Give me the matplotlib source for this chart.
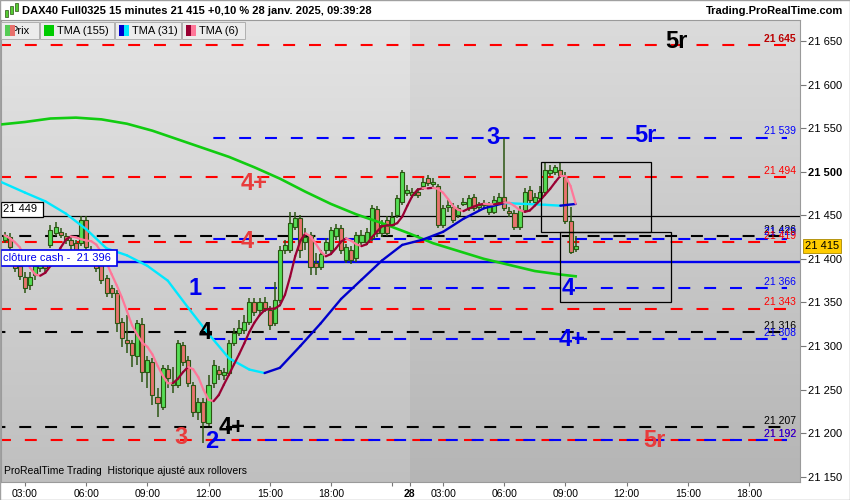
import numpy as np
import pandas as pd
import matplotlib
matplotlib.use('Agg')
import matplotlib.pyplot as plt
from matplotlib.collections import LineCollection
from matplotlib.patches import Rectangle

plt.rcParams['font.family'] = ['Liberation Sans', 'DejaVu Sans']
plt.rcParams['lines.scale_dashes'] = False

# 15 minute bars, index 0 = 27 jan 03:00 (day 28 starts after 75.5)
bars = np.arange(-4, 109)
opens = [21422, 21425, 21401, 21392, 21379, 21370, 21382, 21390, 21396, 21416,
         21430, 21431, 21426, 21422, 21418, 21418, 21445, 21410, 21396, 21393,
         21378, 21366, 21361, 21328, 21307, 21304, 21288, 21325, 21270, 21282,
         21242, 21230, 21274, 21255, 21255, 21301, 21284, 21255, 21224, 21236,
         21212, 21258, 21273, 21267, 21269, 21304, 21315, 21318, 21328, 21351,
         21341, 21351, 21341, 21326, 21353, 21410, 21410, 21437, 21447, 21419,
         21427, 21395, 21391, 21410, 21410, 21426, 21435, 21399, 21410, 21401,
         21419, 21419, 21424, 21457, 21430, 21445, 21439, 21450, 21465, 21476,
         21473, 21477, 21483, 21493, 21486, 21483, 21439, 21460, 21460, 21450,
         21463, 21458, 21471, 21460, 21464, 21454, 21454, 21465, 21471, 21455,
         21453, 21437, 21456, 21479, 21465, 21470, 21477, 21499, 21500, 21502,
         21494, 21443, 21411]
highs = [21431, 21430, 21404, 21396, 21385, 21385, 21396, 21401, 21401, 21439,
         21442, 21435, 21430, 21426, 21422, 21449, 21449, 21415, 21401, 21396,
         21382, 21370, 21364, 21332, 21336, 21307, 21330, 21332, 21288, 21286,
         21252, 21278, 21278, 21276, 21307, 21305, 21289, 21259, 21240, 21240,
         21267, 21284, 21277, 21275, 21307, 21321, 21330, 21336, 21355, 21355,
         21355, 21356, 21346, 21374, 21415, 21422, 21454, 21454, 21450, 21435,
         21431, 21407, 21410, 21424, 21437, 21440, 21439, 21417, 21415, 21431,
         21433, 21435, 21462, 21461, 21445, 21449, 21454, 21473, 21502, 21485,
         21481, 21481, 21493, 21496, 21493, 21486, 21462, 21468, 21464, 21462,
         21470, 21473, 21474, 21465, 21468, 21465, 21472, 21476, 21539, 21460,
         21456, 21461, 21481, 21484, 21476, 21484, 21510, 21508, 21508, 21510,
         21500, 21460, 21426]
lows = [21418, 21410, 21385, 21376, 21361, 21364, 21376, 21385, 21385, 21412,
        21426, 21424, 21417, 21410, 21404, 21415, 21410, 21392, 21385, 21371,
        21356, 21355, 21316, 21299, 21292, 21276, 21278, 21259, 21252, 21232,
        21218, 21227, 21252, 21246, 21252, 21277, 21253, 21218, 21215, 21189,
        21208, 21252, 21261, 21261, 21266, 21300, 21312, 21314, 21324, 21334,
        21337, 21339, 21318, 21323, 21349, 21406, 21407, 21433, 21401, 21410,
        21382, 21382, 21387, 21406, 21407, 21422, 21406, 21395, 21394, 21396,
        21415, 21416, 21421, 21425, 21425, 21426, 21435, 21447, 21462, 21472,
        21470, 21470, 21479, 21484, 21481, 21435, 21435, 21454, 21441, 21447,
        21461, 21455, 21455, 21456, 21458, 21450, 21452, 21462, 21455, 21448,
        21433, 21433, 21453, 21463, 21461, 21466, 21473, 21495, 21496, 21493,
        21440, 21406, 21408]
closes = [21427, 21414, 21390, 21380, 21367, 21379, 21392, 21396, 21390, 21433,
          21437, 21427, 21422, 21416, 21410, 21445, 21414, 21396, 21390, 21376,
          21361, 21361, 21326, 21309, 21304, 21290, 21326, 21270, 21284, 21244,
          21235, 21275, 21263, 21259, 21304, 21282, 21258, 21224, 21236, 21213,
          21255, 21278, 21268, 21270, 21304, 21315, 21321, 21328, 21351, 21339,
          21351, 21344, 21324, 21353, 21410, 21416, 21441, 21447, 21410, 21425,
          21391, 21391, 21405, 21419, 21433, 21435, 21410, 21414, 21399, 21427,
          21427, 21431, 21458, 21430, 21439, 21430, 21448, 21470, 21500, 21479,
          21477, 21473, 21488, 21487, 21488, 21439, 21458, 21462, 21445, 21458,
          21465, 21470, 21458, 21462, 21462, 21462, 21468, 21471, 21458, 21453,
          21437, 21456, 21477, 21468, 21471, 21477, 21502, 21502, 21505, 21496,
          21443, 21408, 21415]

# TMA(31) and TMA(155)
tma31_bar = [-5, 0, 4, 8, 12, 16, 20, 24, 28, 32, 36, 40, 44, 47, 50, 54, 58, 62,
             66, 70, 74, 78, 82, 86, 90, 94, 98, 102, 105, 108]
tma31_val = [21489, 21476, 21466, 21452, 21434, 21412, 21404, 21392, 21375, 21344,
             21314, 21286, 21273, 21269, 21275, 21300, 21326, 21354, 21376, 21398,
             21416, 21422, 21431, 21446, 21458, 21464, 21463, 21462, 21461, 21463]
tma155_bar = [-5, 0, 5, 10, 15, 20, 25, 30, 35, 40, 45, 50, 55, 60, 65, 70, 75, 80,
              85, 90, 95, 100, 105, 108]
tma155_val = [21554, 21557, 21561, 21562, 21560, 21555, 21547, 21537, 21527, 21517,
              21505, 21492, 21477, 21463, 21451, 21441, 21430, 21418, 21409, 21400,
              21393, 21386, 21382, 21380]

# horizontal levels
level_price = [21645, 21539, 21494, 21426, 21423, 21419, 21366, 21343, 21316, 21308,
               21207, 21192, 21192]
level_kind = ['red', 'blue', 'red', 'black', 'blue', 'red', 'blue', 'red', 'black',
              'blue', 'black', 'red', 'blue']
level_start = [None, 34.3, None, None, 34.3, None, 34.3, None, None, 34.3, None, None, 34.3]

# wave labels
mark_text = ['5r', '3', '5r', '4+', '4', '1', '4', '4', '4+', '4+', '3', '2', '5r']
mark_bar = [127.8, 91.8, 121.6, 45.0, 43.5, 33.4, 106.5, 35.3, 107.3, 40.6, 30.6, 36.7, 123.5]
mark_price = [21649, 21539, 21542, 21487, 21420, 21366, 21366, 21316, 21308, 21207,
              21195, 21191, 21192]
mark_kind = ['black', 'blue', 'blue', 'red', 'red', 'blue', 'blue', 'black', 'blue',
             'black', 'red', 'blue', 'red']

boxes = [(101.2, 21431, 122.7, 21511), (104.9, 21351, 126.7, 21431)]

time_pos = [0, 12, 24, 36, 48, 60, 72, 75.5, 82, 94, 106, 118, 130, 142]
time_lab = ['03:00', '06:00', '09:00', '12:00', '15:00', '18:00', '', '28',
            '03:00', '06:00', '09:00', '12:00', '15:00', '18:00']

last_price = 21415
prev_close_cash = 21396
ref_level = 21449

col = {'red': '#ff0000', 'blue': '#0000ff', 'black': '#000000'}
mark_col = {'red': '#e83c3c', 'blue': '#0000ee', 'black': '#000000'}
dash = {'red': (0, (8.6, 10)), 'blue': (9, (8.6, 10)), 'black': (4, (8.6, 10))}

W, H = 850, 500
fig = plt.figure(figsize=(8.5, 5), dpi=100)
fig.patch.set_facecolor('white')
ax = fig.add_axes([1 / W, 18 / H, 799 / W, 462 / H])

YLO, YHI = 21144, 21674
XLO, XHI = -4.7, 152

# background gradients
g = np.linspace(0, 1, 256).reshape(-1, 1)
left_bg = 0.895 - 0.145 * g
right_bg = 0.86 - 0.15 * g
ax.imshow(np.dstack([left_bg] * 3), extent=(-10, 75.5, YLO, YHI), aspect='auto',
          origin='upper', zorder=0)
ax.imshow(np.dstack([right_bg] * 3), extent=(75.5, 160, YLO, YHI), aspect='auto',
          origin='upper', zorder=0)

# levels
for p, k, s in zip(level_price, level_kind, level_start):
    x0 = XLO - 1 if s is None else s
    ax.hlines(p, x0, XHI - 2.5, colors=col[k], linestyles=[dash[k]], lw=1.5, zorder=2)
ax.axhline(ref_level, color='black', lw=0.9, zorder=2)
ax.axhline(prev_close_cash, color='#0000ee', lw=1.7, zorder=2)

# value labels on the right
for p, k in zip(level_price, level_kind):
    c = '#bb0000' if p == 21645 else col[k]
    ax.text(0.995, p + 1.5, f'{p:,}'.replace(',', ' '), color=c, fontsize=7.5,
            ha='right', va='bottom', transform=ax.get_yaxis_transform(), zorder=6,
            fontweight='bold' if p == 21645 else 'normal')

# candles
o = np.array(opens, float)
c = np.array(closes, float)
up = c >= o
body = np.maximum(np.abs(c - o), 0.9)
ax.vlines(bars, lows, highs, color='#2b5512', lw=1.1, zorder=4)
ax.bar(bars[up], body[up], bottom=o[up], width=0.8, color='#55dd55',
       edgecolor='#2b5512', lw=0.8, zorder=5)
ax.bar(bars[~up], body[~up], bottom=c[~up], width=0.8, color='#e8736e',
       edgecolor='#2b5512', lw=0.8, zorder=5)


def two_tone(xs, ys, rise, fall, lw, z):
    xs = np.asarray(xs, float)
    ys = np.asarray(ys, float)
    pts = np.column_stack([xs, ys])
    segs = np.stack([pts[:-1], pts[1:]], axis=1)
    cols = [rise if b > a else fall for a, b in zip(ys[:-1], ys[1:])]
    ax.add_collection(LineCollection(segs, colors=cols, linewidths=lw, zorder=z,
                                     capstyle='round', joinstyle='round'))


ax.plot(tma155_bar, tma155_val, color='#11cc11', lw=1.9, zorder=6)
two_tone(tma31_bar, tma31_val, '#0000cc', '#00e8ff', 1.7, 6)
s = pd.Series(c)
tma6 = s.rolling(3, min_periods=1).mean().rolling(4, min_periods=1).mean()
two_tone(bars, tma6.values, '#990033', '#ff7799', 1.6, 7)

# boxes
for x0, y0, x1, y1 in boxes:
    ax.add_patch(Rectangle((x0, y0), x1 - x0, y1 - y0, fill=False, edgecolor='black',
                           lw=0.9, zorder=8))

# wave marks
for t, xb, p, k in zip(mark_text, mark_bar, mark_price, mark_kind):
    ax.text(xb, p, t, color=mark_col[k], fontsize=17, fontweight='bold',
            ha='center', va='center', zorder=9)

# left boxes
ax.text(0.003, ref_level + 2, f'{ref_level:,}'.replace(',', ' ') + ' ', fontsize=8,
        ha='left', va='bottom', transform=ax.get_yaxis_transform(), zorder=10,
        bbox=dict(boxstyle='square,pad=0.25', fc='white', ec='black', lw=0.9))
ax.text(0.003, prev_close_cash + 5, 'clôture cash -  ' +
        f'{prev_close_cash:,}'.replace(',', ' ') + ' ', fontsize=8, color='#0000ee',
        ha='left', va='center', transform=ax.get_yaxis_transform(), zorder=10,
        bbox=dict(boxstyle='square,pad=0.25', fc='white', ec='#0000ee', lw=1.2))

ax.text(0.004, 0.014, 'ProRealTime Trading  Historique ajusté aux rollovers',
        fontsize=7.5, transform=ax.transAxes, ha='left', va='bottom', zorder=10)

# axes
ax.set_xlim(XLO, XHI)
ax.set_ylim(YLO, YHI)
ax.yaxis.tick_right()
yt = np.arange(21150, 21651, 50)
ax.set_yticks(yt)
ax.set_yticklabels([f'{v:,}'.replace(',', ' ') for v in yt])
for lab in ax.get_yticklabels():
    if lab.get_text() == '21 500':
        lab.set_fontweight('bold')
ax.tick_params(axis='y', length=4, color='#777777', labelsize=8, pad=2)
ax.set_xticks(time_pos)
ax.set_xticklabels(time_lab)
for lab in ax.get_xticklabels():
    if lab.get_text() == '28':
        lab.set_fontweight('bold')
ax.tick_params(axis='x', length=3, color='#777777', labelsize=7.5, pad=2)
for sp in ax.spines.values():
    sp.set_color('#9a9a9a')
    sp.set_linewidth(0.8)

ax.text(1.006, last_price, f'{last_price:,}'.replace(',', ' '), fontsize=8,
        transform=ax.get_yaxis_transform(), ha='left', va='center', zorder=11,
        bbox=dict(boxstyle='square,pad=0.2', fc='#ffcc00', ec='#aa8800', lw=0.6),
        clip_on=False)

# header
fig.text(22 / W, 1 - 11 / H, 'DAX40 Full0325 15 minutes 21 415 +0,10 % 28 janv. 2025, 09:39:28',
         fontsize=8, fontweight='bold', ha='left', va='center')
fig.text(843 / W, 1 - 11 / H, 'Trading.ProRealTime.com', fontsize=8,
         fontweight='bold', ha='right', va='center')
for x, y0, h in [(5, 10, 7), (10, 6, 8), (15, 3, 8)]:
    fig.patches.append(Rectangle((x / W, 1 - (y0 + h) / H), 3 / W, h / H,
                                 transform=fig.transFigure, fc='#55cc33', ec='#2b5512', lw=0.5))

# legend buttons
legend_items = [('Prix', 1, 39, ['#55cc55', '#e8706c']),
                ('TMA (155)', 40, 114, ['#00cc00']),
                ('TMA (31)', 115, 181, ['#0000cc', '#00e8ff']),
                ('TMA (6)', 182, 245, ['#990033', '#ff7799'])]
for name, x0, x1, cols in legend_items:
    fig.patches.append(Rectangle((x0 / W, 1 - 39 / H), (x1 - x0) / W, 17 / H,
                                 transform=fig.transFigure, fc='#ececec', ec='#b0b0b0',
                                 lw=0.7, zorder=20))
    tx = x0 + 9 if name == 'Prix' else x0 + 17
    fig.text(tx / W, 1 - 30.5 / H, name, fontsize=8, ha='left', va='center', zorder=21)
    n = len(cols)
    for i, cc in enumerate(cols):
        fig.patches.append(Rectangle(((x0 + 4 + i * 10 / n) / W, 1 - 36 / H),
                                     (10 / n) / W, 11 / H, transform=fig.transFigure,
                                     fc=cc, ec='none', zorder=22))

fig.patches.append(Rectangle((0, 0), 1, 1, transform=fig.transFigure, fill=False,
                             ec='#a0a0a0', lw=1))

fig.savefig('out.png', dpi=100)
